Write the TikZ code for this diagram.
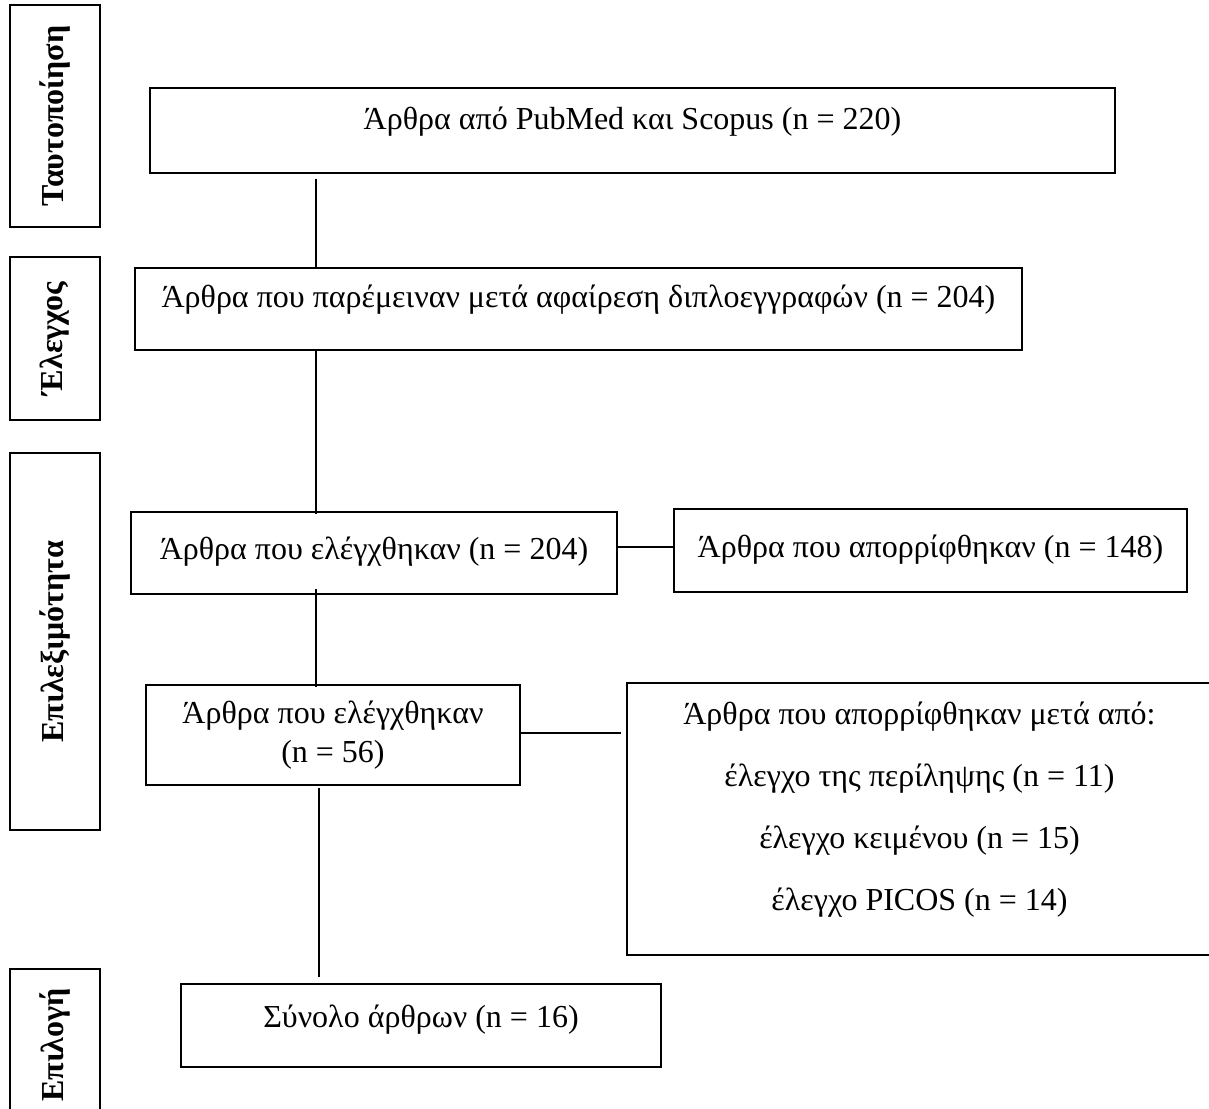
\documentclass[tikz,border=0pt]{standalone}
\usepackage{fontspec}
\setmainfont{Liberation Serif}
\usetikzlibrary{positioning,calc}

\begin{document}
\begin{tikzpicture}[x=1pt,y=-1pt,
    box/.style={draw,line width=1.8pt,inner sep=0pt,align=center,font=\fontsize{32}{39}\selectfont},
    lift/.style={text height=23pt,text depth=#1},
    stage/.style={draw,line width=1.4pt,inner sep=0pt,rotate=90,minimum height=90pt,font=\bfseries\fontsize{32}{38}\selectfont},
    link/.style={line width=1.1pt}]
  \useasboundingbox (0,0) rectangle (1209,1108);
  \clip (0,0) rectangle (1209,1108);
  % stages on the left
  \node[stage,minimum width=222pt] (ident) at (55,116) {Ταυτοποίηση};
  \node[stage,minimum width=163pt] (check) at (55,338.5) {Έλεγχος};
  \node[stage,minimum width=377pt] (elig) at (55,641.5) {Επιλεξιμότητα};
  \node[stage,minimum width=152pt] (incl) at (55,1045) {Επιλογή};
  % flow
  \node[box,lift=26pt,minimum width=965pt,minimum height=85pt] (src) at (632.5,130.5) {Άρθρα από PubMed και Scopus (n = 220)};
  \node[box,lift=27pt,minimum width=887pt,minimum height=82pt] (dedup) at (578.5,309) {Άρθρα που παρέμειναν μετά αφαίρεση διπλοεγγραφών (n = 204)};
  \node[box,lift=11pt,minimum width=486pt,minimum height=82pt] (screen) at (374,553) {Άρθρα που ελέγχθηκαν (n = 204)};
  \node[box,lift=10pt,minimum width=513pt,minimum height=83pt] (excl1) at (930.5,550.5) {Άρθρα που απορρίφθηκαν (n = 148)};
  \node[box,minimum width=374pt,minimum height=100pt] (full) at (333,735) {Άρθρα που ελέγχθηκαν\\(n = 56)};
  \node[box,minimum width=585pt,minimum height=272pt] (excl2) at (919.5,819) {};
  \node[anchor=north,inner sep=0pt,align=center,font=\fontsize{32}{62}\selectfont] (excl2txt) at ([yshift=-20pt]excl2.north) {Άρθρα που απορρίφθηκαν μετά από:\\έλεγχο της περίληψης (n = 11)\\έλεγχο κειμένου (n = 15)\\έλεγχο PICOS (n = 14)};
  \node[box,lift=20pt,minimum width=480pt,minimum height=83pt] (total) at (421,1025.5) {Σύνολο άρθρων (n = 16)};
  % connectors
  \coordinate (spine) at (316,0);
  \coordinate (hA) at (0,547);
  \coordinate (hB) at (0,733);
  \draw[link] ($(src.south -| spine)+(0,5)$) -- (dedup.north -| spine);
  \draw[link] (dedup.south -| spine) -- ($(screen.north -| spine)+(0,3)$);
  \draw[link] ($(screen.south -| spine)+(0,-6)$) -- ($(full.north -| spine)+(0,3)$);
  \draw[link] ($(full.south -| spine)+(3,2)$) -- ($(total.north -| spine)+(3,-6)$);
  \draw[link] (screen.east |- hA) -- (excl1.west |- hA);
  \draw[link] (full.east |- hB) -- ($(excl2.west |- hB)+(-5,0)$);
\end{tikzpicture}
\end{document}
